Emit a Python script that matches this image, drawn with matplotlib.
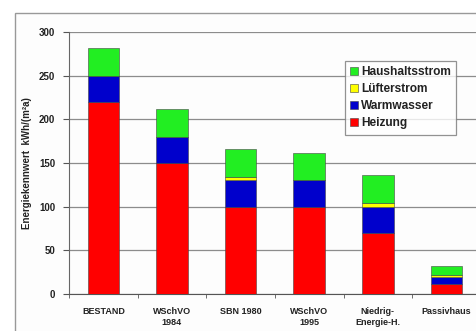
import matplotlib
matplotlib.use("Agg")
import matplotlib.pyplot as plt
from matplotlib.patches import Rectangle
import numpy as np

plt.rcParams['font.family'] = ['Liberation Sans', 'DejaVu Sans']

categories = ["BESTAND", "WSchVO\n1984", "SBN 1980", "WSchVO\n1995", "Niedrig-\nEnergie-H.", "Passivhaus"]
heizung = [220, 150, 100, 100, 70, 12]
warmwasser = [30, 30, 31, 30, 30, 8]
luefterstrom = [0, 0, 3, 0, 4, 2]
haushaltsstrom = [32, 32, 32, 32, 32, 10]

series = [
    ("Heizung", heizung, "#ff0000"),
    ("Warmwasser", warmwasser, "#0000cc"),
    ("Lüfterstrom", luefterstrom, "#ffff00"),
    ("Haushaltsstrom", haushaltsstrom, "#22ee22"),
]

fig = plt.figure(figsize=(4.76, 3.31), dpi=100)
fig.patch.set_facecolor("white")

# outer chart frame
frame = Rectangle((15 / 476, -0.1), 1.2, 0.1 + (1 - 13 / 331), transform=fig.transFigure,
                  facecolor="#fdfdfd", edgecolor="#999999", linewidth=1.0, zorder=-5)
fig.add_artist(frame)

ax = fig.add_axes([69 / 476, 1 - 294 / 331, 1 - 69 / 476 + 0.01, (294 - 32) / 331])
ax.set_facecolor("none")
ax.set_zorder(2)

x = np.arange(len(categories))
bottom = np.zeros(len(categories))
handles = {}
for name, vals, col in series:
    vals = np.array(vals, dtype=float)
    b = ax.bar(x, vals, 0.46, bottom=bottom, color=col, edgecolor="#444444",
               linewidth=0.4, label=name, zorder=3)
    handles[name] = b
    bottom += vals

ax.set_xlim(-0.48, 5.5)
ax.set_ylim(0, 300)
ax.set_yticks(np.arange(0, 301, 50))
ax.yaxis.grid(True, color="#8c8c8c", linewidth=0.9, zorder=0)
ax.set_axisbelow(True)

ax.set_xticks(x)
ax.set_xticklabels(categories, fontsize=6.5, fontweight="bold", color="#222222", linespacing=1.3)
ax.set_xticks(np.arange(-0.5, 5.6, 1.0), minor=True)
ax.tick_params(axis="x", which="major", length=0, pad=9)
ax.tick_params(axis="x", which="minor", length=3, color="#555555", direction="out")
ax.tick_params(axis="y", length=4, color="#555555", labelsize=7, pad=6)
for lbl in ax.get_yticklabels():
    lbl.set_fontweight("bold")
    lbl.set_color("#222222")

for side in ["top", "right"]:
    ax.spines[side].set_visible(False)
ax.spines["left"].set_color("#666666")
ax.spines["bottom"].set_color("#555555")

ax.set_ylabel("Energiekennwert  kWh/(m²a)", fontsize=7, fontweight="bold", color="#222222", labelpad=5)

order = ["Haushaltsstrom", "Lüfterstrom", "Warmwasser", "Heizung"]
leg = ax.legend([handles[n] for n in order], order, loc="upper left",
                bbox_to_anchor=((345 - 69) / (476 - 69 + 4.76), 1 - (61 - 32) / 262),
                frameon=True, fancybox=False, fontsize=8.6, handlelength=0.65, handleheight=0.65,
                handletextpad=0.25, labelspacing=0.42, borderpad=0.45, borderaxespad=0)
leg.get_frame().set_edgecolor("#777777")
leg.get_frame().set_linewidth(0.9)
for t in leg.get_texts():
    t.set_fontweight("bold")
    t.set_color("#222222")

fig.savefig("out.png", dpi=100)
